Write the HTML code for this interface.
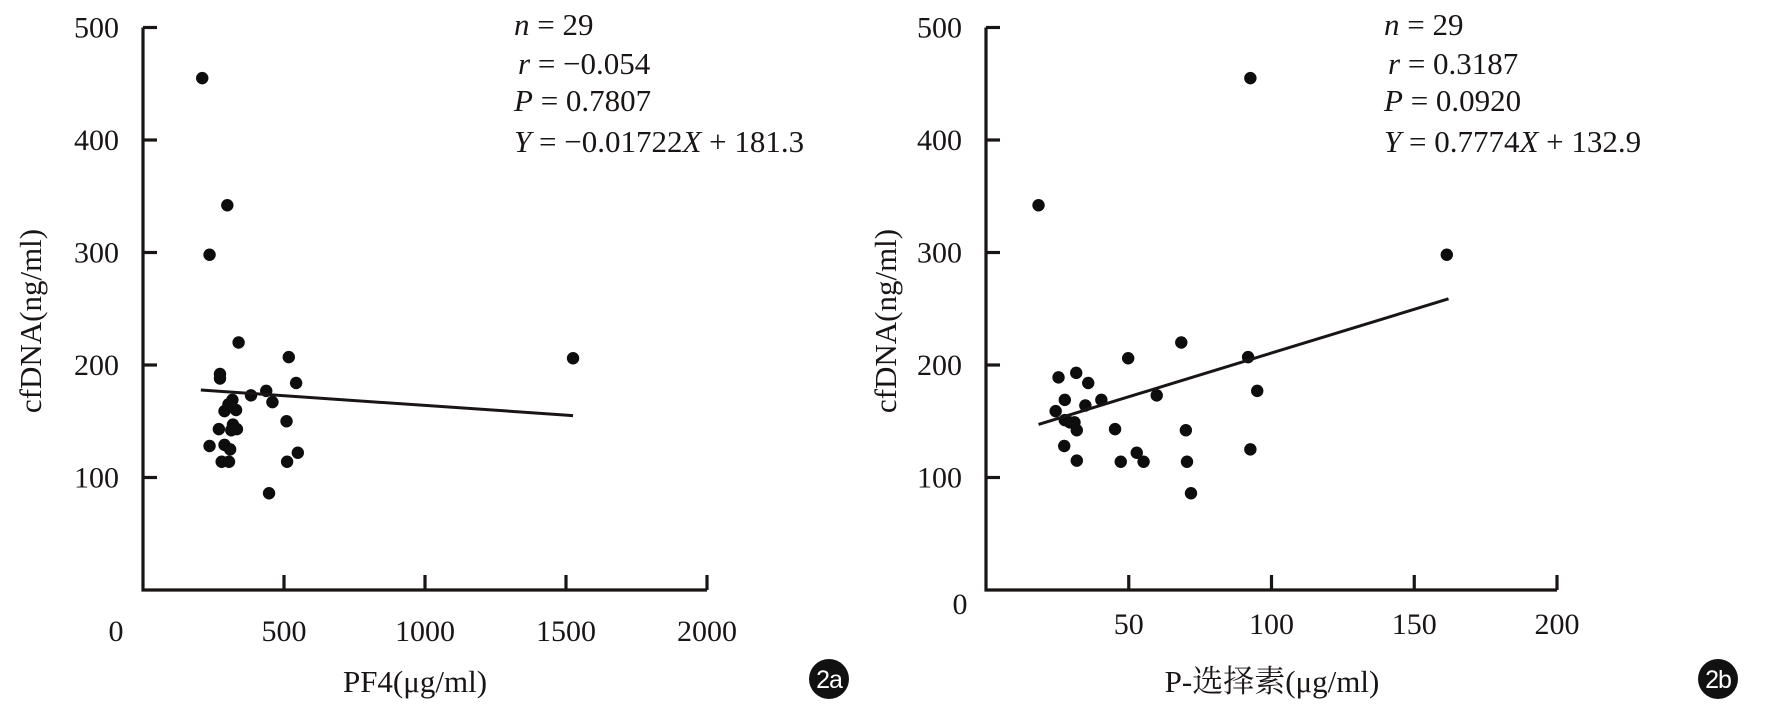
<!DOCTYPE html>
<html><head><meta charset="utf-8">
<style>
html,body{margin:0;padding:0;background:#fff;}
svg{display:block;}
text{font-family:"Liberation Serif","Noto Serif CJK SC","Noto Sans CJK SC",serif;fill:#1a1515;}
</style></head>
<body>
<svg id="chart" width="1771" height="715" viewBox="0 0 1771 715" xmlns="http://www.w3.org/2000/svg">
<g id="pa"></g>
<g id="pb"></g>
</svg>
<script>
// Panel a data
const aX = [210,299,236,339,273,273,517,543,1525,383,437,459,317,303,289,509,319,333,313,269,236,289,309,549,279,305,511,447,330];
const aY = [455,342,298,220,192,188,207,184,206,173,177,167,169,165,159,150,147,143,142,143,128,129,125,122,114,114,114,86,160];
const aXTicks = [500,1000,1500,2000];
const aSlope = -0.01722, aIntercept = 181.3, aFitRange = [205,1525];
const aStats = ["n = 29","r = \u22120.054","P = 0.7807","Y = \u22120.01722X + 181.3"];
// Panel b data
const bX = [18.4,92.6,161.4,68.4,49.8,91.8,25.4,31.6,35.8,95,59.8,27.6,40.4,34.8,24.4,27.6,31,31.8,45.2,70,27.4,92.6,52.8,55.2,47.2,31.8,70.4,71.8,29.4];
const bY = [342,455,298,220,206,207,189,193,184,177,173,169,169,164,159,151,149,142,143,142,128,125,122,114,114,115,114,86,149];
const bXTicks = [50,100,150,200];
const bSlope = 0.7774, bIntercept = 132.9, bFitRange = [18.4,162];
const bStats = ["n = 29","r = 0.3187","P = 0.0920","Y = 0.7774X + 132.9"];
const yTicks = [100,200,300,400,500];

const NS = "http://www.w3.org/2000/svg";
function mk(parent, tag, attrs, txt){
  const e = document.createElementNS(NS, tag);
  for (const k in attrs) e.setAttribute(k, attrs[k]);
  if (txt !== undefined) e.textContent = txt;
  parent.appendChild(e);
  return e;
}
const COL = "#1a1515";
function panel(g, cfg){
  const y0 = 590, yTop = 27.5;
  const sx = v => cfg.ax + (v / cfg.xMax) * (cfg.xEnd - cfg.ax);
  const sy = v => y0 - (v / 500) * (y0 - yTop);
  let e = mk(g, "path", {d:`M${cfg.ax},${yTop} V${y0} H${cfg.xEnd}`, stroke:COL, "stroke-width":3.2, fill:"none"});
  
  
  yTicks.forEach(t => {
    const tk = mk(g, "line", {x1:cfg.ax, x2:cfg.ax+14, y1:sy(t), y2:sy(t), stroke:COL, "stroke-width":3.2});
    
    
    const lb = mk(g, "text", {x:cfg.ax-24, y:sy(t)+10, "text-anchor":"end", "font-size":30}, String(t));
    
    
  });
  const z = mk(g, "text", {x:cfg.zeroX, y:cfg.zeroY, "text-anchor":"middle", "font-size":30}, "0");
  
  
  cfg.xTicks.forEach(t => {
    const tk = mk(g, "line", {x1:sx(t), x2:sx(t), y1:y0, y2:y0-15, stroke:COL, "stroke-width":3.2});
    
    
    const lb = mk(g, "text", {x:sx(t), y:cfg.xLabY, "text-anchor":"middle", "font-size":30}, String(t));
    
    
  });
  cfg.xs.forEach((v, i) => {
    const c = mk(g, "circle", {cx:sx(v), cy:sy(cfg.ys[i]), r:6.2, fill:"#0d0d0d"});
    
    
  });
  const [f0, f1] = cfg.fit;
  const fl = mk(g, "line", {x1:sx(f0), y1:sy(cfg.slope*f0+cfg.icpt), x2:sx(f1), y2:sy(cfg.slope*f1+cfg.icpt), stroke:COL, "stroke-width":3});
  
  
  const sy0 = [35, 74, 111, 152];
  cfg.stats.forEach((s, i) => {
    const t = mk(g, "text", {x:cfg.statX + (i===1?4:0), y:sy0[i], "font-size":31});
    
    
    const tokens = s.match(/[nrPYX]|[^nrPYX]+/g);
    tokens.forEach(tok => {
      mk(t, "tspan", /^[nrPYX]$/.test(tok) ? {"font-style":"italic"} : {}, tok);
    });
  });
  const yt = mk(g, "text", {x:0, y:0, "text-anchor":"middle", "font-size":31, transform:`translate(${cfg.yTitleX},321) rotate(-90)`}, "cfDNA(ng/ml)");
  
  
  const xt = mk(g, "text", {x:cfg.xTitleX, y:692, "text-anchor":"middle", "font-size":31}, cfg.xTitle);
  
  
  const bc = mk(g, "circle", {cx:cfg.badgeX, cy:679, r:20, fill:"#111"});
  
  
  const bt = mk(g, "text", {x:cfg.badgeX, y:688, "text-anchor":"middle", "font-size":25, style:"font-family:'Liberation Sans',sans-serif;fill:#fff", "letter-spacing":"-1"}, cfg.badge);
  
  
}
panel(document.getElementById("pa"), {ax:143, xEnd:707, xMax:2000, xs:aX, ys:aY, xTicks:aXTicks, slope:aSlope, icpt:aIntercept, fit:aFitRange, stats:aStats, statX:514, zeroX:116, zeroY:641, xLabY:641, yTitleX:41, xTitleX:415, xTitle:"PF4(\u03bcg/ml)", badgeX:829, badge:"2a"});
panel(document.getElementById("pb"), {ax:986, xEnd:1557, xMax:200, xs:bX, ys:bY, xTicks:bXTicks, slope:bSlope, icpt:bIntercept, fit:bFitRange, stats:bStats, statX:1384, zeroX:960, zeroY:614, xLabY:634, yTitleX:896, xTitleX:1272, xTitle:"P-\u9009\u62e9\u7d20(\u03bcg/ml)", badgeX:1718, badge:"2b"});
</script>
</body></html>
